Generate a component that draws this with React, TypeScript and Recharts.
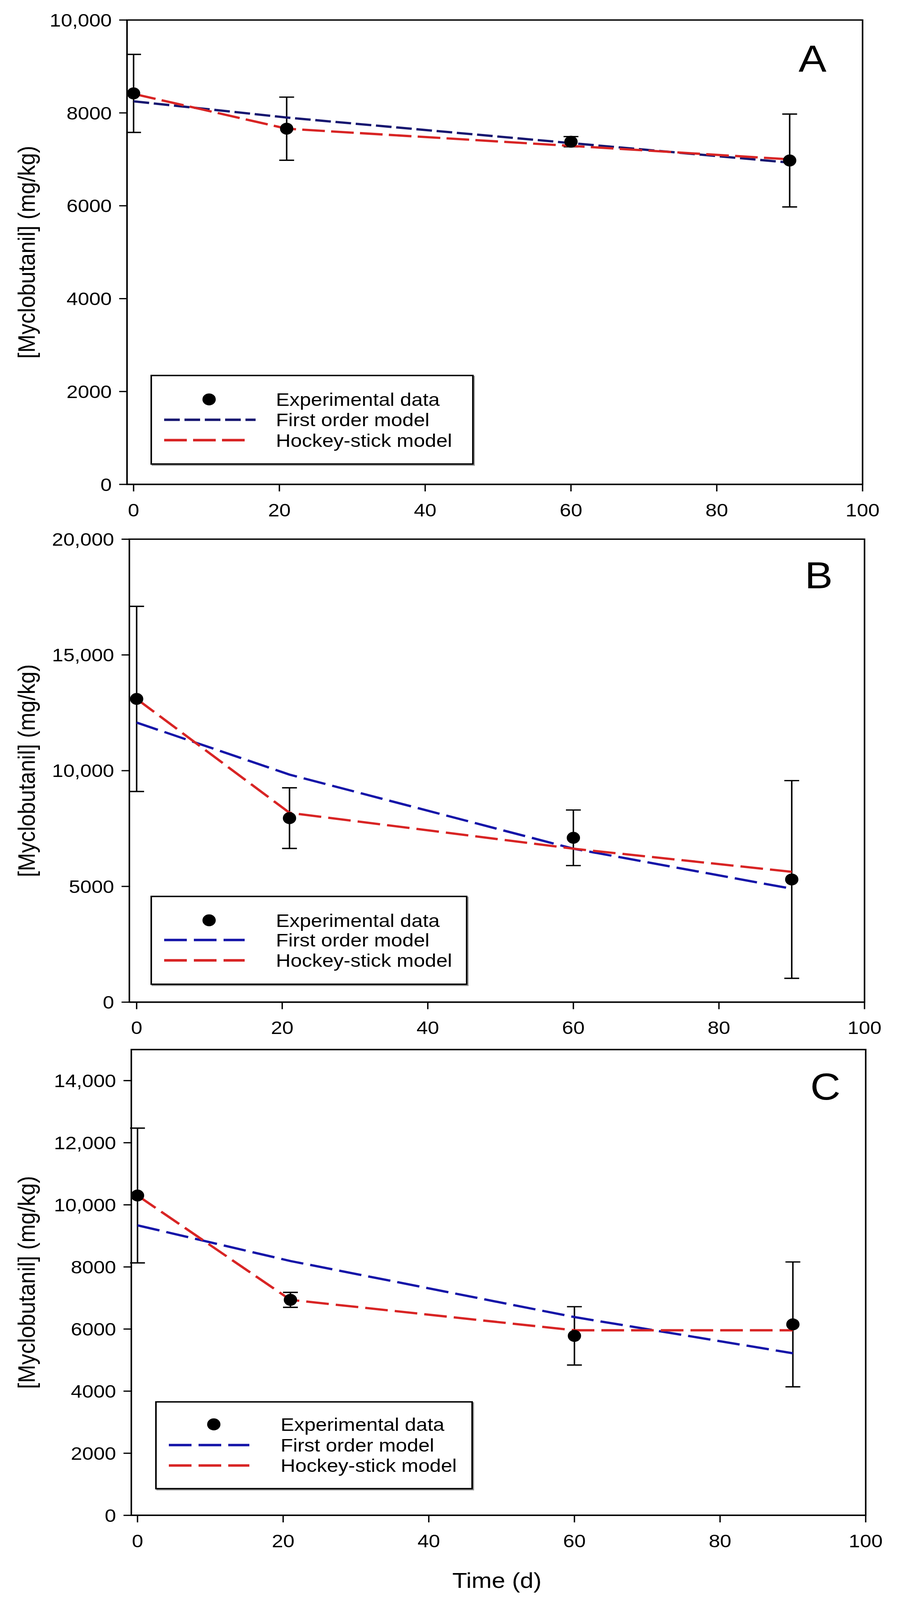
import React from 'react';
import {
  ComposedChart,
  Scatter,
  Line,
  XAxis,
  YAxis,
  ErrorBar,
  ReferenceArea,
  Legend,
} from 'recharts';

// ---------- data ----------
const days = [0, 21, 60, 90];
const xTicks = [0, 20, 40, 60, 80, 100];
const xTickLabels = ['0', '20', '40', '60', '80', '100'];

const obsA = [8420, 7660, 7380, 6975];
const errA = [840, 680, 110, 1000];
const firstA = [8250, 7900, 7350, 6930];
const hockeyA = [8410, 7660, 7290, 7000];
const yTicksA = [0, 2000, 4000, 6000, 8000, 10000];
const yLabelsA = ['0', '2000', '4000', '6000', '8000', '10,000'];

const obsB = [13100, 7950, 7100, 5300];
const errB = [4000, 1310, 1200, 4270];
const firstB = [12080, 9830, 6630, 4900];
const hockeyB = [13100, 8180, 6630, 5630];
const yTicksB = [0, 5000, 10000, 15000, 20000];
const yLabelsB = ['0', '5000', '10,000', '15,000', '20,000'];

const obsC = [10300, 6940, 5780, 6150];
const errC = [2170, 240, 940, 2010];
const firstC = [9340, 8190, 6385, 5220];
const hockeyC = [10300, 6940, 5960, 5960];
const yTicksC = [0, 2000, 4000, 6000, 8000, 10000, 12000, 14000];
const yLabelsC = ['0', '2000', '4000', '6000', '8000', '10,000', '12,000', '14,000'];

const legendNames = ['Experimental data', 'First order model', 'Hockey-stick model'];
const yAxisTitle = '[Myclobutanil] (mg/kg)';
const xAxisTitle = 'Time (d)';

const FONT = '"Liberation Sans", Arial, Helvetica, sans-serif';
const RED = '#d82424';

// The design is laid out on a 2313 x 4555 canvas; the visible window is
// only 4096 px tall, so the whole figure is scaled vertically to fit.
const DESIGN_H = 4555;
const VIEW_H = 4096;

type PanelDef = {
  letter: string;
  obs: number[];
  err: number[];
  first: number[];
  hockey: number[];
  yMax: number;
  yTicks: number[];
  yLabels: string[];
  top: number;
  height: number;
  mTop: number;
  mRight: number;
  yW: number;
  xH: number;
  xMin: number;
  letterDx: number;
  letterDy: number;
  legend: { left: number; top: number; w: number; h: number; rows: number[]; blueLen: number };
  blue: string;
  blueDash: string;
  redDash: string;
  showXTitle: boolean;
};

const panels: PanelDef[] = [
  {
    letter: 'A', obs: obsA, err: errA, first: firstA, hockey: hockeyA,
    yMax: 10000, yTicks: yTicksA, yLabels: yLabelsA,
    top: 0, height: 1500, mTop: 57, mRight: 106, yW: 325, xH: 121, xMin: -0.9,
    letterDx: 128, letterDy: 147,
    legend: { left: 385, top: 1067, w: 827, h: 256, rows: [70, 128, 186], blueLen: 234 },
    blue: '#161670', blueDash: '40 12', redDash: '58 16', showXTitle: false,
  },
  {
    letter: 'B', obs: obsB, err: errB, first: firstB, hockey: hockeyB,
    yMax: 20000, yTicks: yTicksB, yLabels: yLabelsB,
    top: 1500, height: 1460, mTop: 35, mRight: 101, yW: 331, xH: 107, xMin: -1.0,
    letterDx: 117, letterDy: 140,
    legend: { left: 385, top: 1050, w: 811, h: 254, rows: [70, 126, 184], blueLen: 206 },
    blue: '#1414a8', blueDash: '58 18', redDash: '58 18', showXTitle: false,
  },
  {
    letter: 'C', obs: obsC, err: errC, first: firstC, hockey: hockeyC,
    yMax: 15000, yTicks: yTicksC, yLabels: yLabelsC,
    top: 2960, height: 1595, mTop: 28, mRight: 98, yW: 336, xH: 241, xMin: -0.85,
    letterDx: 103, letterDy: 143,
    legend: { left: 397, top: 1029, w: 813, h: 251, rows: [66, 125, 183], blueLen: 206 },
    blue: '#1414a8', blueDash: '58 18', redDash: '58 18', showXTitle: true,
  },
];

const Dot = (props: any) => {
  if (props.cx == null || props.cy == null) return null;
  return <circle cx={props.cx} cy={props.cy} r={17} fill="#000" />;
};

function LegendBox({ p }: { p: PanelDef }) {
  const { w, h, rows, blueLen } = p.legend;
  const lx = 35;
  return (
    <svg width={w} height={h} style={{ display: 'block', overflow: 'visible' }}>
      <rect x={3} y={3} width={w} height={h} fill="#9a9a9a" />
      <rect x={2} y={2} width={w - 4} height={h - 4} fill="#fff" stroke="#000" strokeWidth={4} />
      <circle cx={150} cy={rows[0]} r={17} fill="#000" />
      <line x1={lx} x2={lx + blueLen} y1={rows[1]} y2={rows[1]} stroke={p.blue} strokeWidth={7} strokeDasharray={p.blueDash} />
      <line x1={lx} x2={lx + 206} y1={rows[2]} y2={rows[2]} stroke={RED} strokeWidth={7} strokeDasharray={p.redDash} />
      {legendNames.map((n, i) => (
        <text key={n} x={321} y={rows[i]} dy="0.36em" fontSize={52} fontFamily={FONT} fill="#000">
          {n}
        </text>
      ))}
    </svg>
  );
}

function Panel({ p }: { p: PanelDef }) {
  const data = days.map((t, i) => ({
    t,
    obs: p.obs[i],
    err: p.err[i],
    first: p.first[i],
    hockey: p.hockey[i],
  }));
  const tickStyle = { fontSize: 52, fill: '#000', fontFamily: FONT };
  return (
    <div style={{ position: 'absolute', left: 0, top: p.top, width: 2313, height: p.height }}>
      <ComposedChart
        width={2313}
        height={p.height}
        data={data}
        margin={{ top: p.mTop, right: p.mRight, bottom: 0, left: 0 }}
      >
        <XAxis
          dataKey="t"
          type="number"
          domain={[p.xMin, 100]}
          ticks={xTicks}
          tickFormatter={(v: number) => xTickLabels[xTicks.indexOf(v)] ?? String(v)}
          allowDataOverflow
          interval={0}
          height={p.xH}
          tickSize={20}
          tickMargin={34}
          tick={tickStyle}
          axisLine={{ stroke: '#000', strokeWidth: 4 }}
          tickLine={{ stroke: '#000', strokeWidth: 3.5 }}
          label={
            p.showXTitle
              ? (lp: any) => {
                  const vb = lp.viewBox;
                  return (
                    <text
                      x={vb.x + vb.width / 2 - 4}
                      y={vb.y + 207}
                      textAnchor="middle"
                      fontSize={62}
                      fontFamily={FONT}
                      fill="#000"
                    >
                      {xAxisTitle}
                    </text>
                  );
                }
              : undefined
          }
        />
        <YAxis
          type="number"
          domain={[0, p.yMax]}
          ticks={p.yTicks}
          tickFormatter={(v: number) => p.yLabels[p.yTicks.indexOf(v)] ?? String(v)}
          allowDataOverflow
          interval={0}
          width={p.yW}
          tickSize={20}
          tickMargin={19}
          tick={tickStyle}
          axisLine={{ stroke: '#000', strokeWidth: 4 }}
          tickLine={{ stroke: '#000', strokeWidth: 3.5 }}
          label={(lp: any) => {
            const vb = lp.viewBox;
            const cx = vb.x + 67;
            const cy = vb.y + vb.height / 2;
            return (
              <text
                x={cx}
                y={cy}
                dy="0.36em"
                transform={`rotate(-90 ${cx} ${cy})`}
                textAnchor="middle"
                fontSize={62}
                fontFamily={FONT}
                fill="#000"
              >
                {yAxisTitle}
              </text>
            );
          }}
        />
        <ReferenceArea
          x1={p.xMin}
          x2={100}
          y1={0}
          y2={p.yMax}
          fill="none"
          fillOpacity={0}
          stroke="#000"
          strokeWidth={4}
          ifOverflow="visible"
          label={(lp: any) => {
            const vb = lp.viewBox;
            return (
              <text
                x={vb.x + vb.width - p.letterDx}
                y={vb.y + p.letterDy}
                textAnchor="middle"
                fontSize={107}
                fontFamily={FONT}
                fill="#000"
              >
                {p.letter}
              </text>
            );
          }}
        />
        <Scatter dataKey="obs" fill="#000" shape={Dot} isAnimationActive={false} legendType="circle" name={legendNames[0]}>
          <ErrorBar dataKey="err" direction="y" width={19} stroke="#000" strokeWidth={3.8} isAnimationActive={false} />
        </Scatter>
        <Line
          type="linear"
          dataKey="first"
          name={legendNames[1]}
          stroke={p.blue}
          strokeWidth={6.5}
          strokeDasharray={p.blueDash}
          dot={false}
          activeDot={false}
          isAnimationActive={false}
        />
        <Line
          type="linear"
          dataKey="hockey"
          name={legendNames[2]}
          stroke={RED}
          strokeWidth={6.5}
          strokeDasharray={p.redDash}
          dot={false}
          activeDot={false}
          isAnimationActive={false}
        />
        <Legend
          layout="horizontal"
          verticalAlign="middle"
          align="center"
          content={() => <LegendBox p={p} />}
          wrapperStyle={{ left: p.legend.left, top: p.legend.top, width: p.legend.w, height: p.legend.h }}
        />
      </ComposedChart>
    </div>
  );
}

export default function App() {
  return (
    <div
      style={{
        position: 'absolute',
        left: 0,
        top: 0,
        width: 2313,
        height: VIEW_H,
        overflow: 'hidden',
        background: '#fff',
      }}
    >
      <div
        style={{
          position: 'absolute',
          left: 0,
          top: 0,
          width: 2313,
          height: DESIGN_H,
          background: '#fff',
          fontFamily: FONT,
          transform: `scaleY(${VIEW_H / DESIGN_H})`,
          transformOrigin: '0 0',
        }}
      >
        {panels.map((p) => (
          <Panel key={p.letter} p={p} />
        ))}
      </div>
    </div>
  );
}
